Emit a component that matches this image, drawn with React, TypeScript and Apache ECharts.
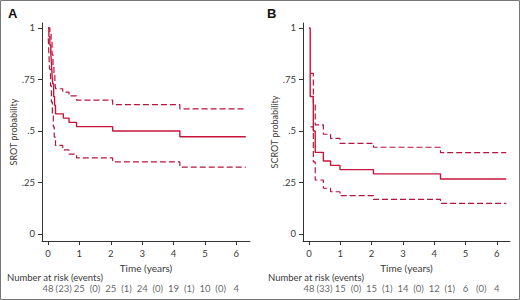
import React, { useEffect, useRef } from "react";
import * as echarts from "echarts";

// Panel A (SROT) Kaplan-Meier estimate with 95% CI
const survA: [number, number][] = [
  [0, 1], [0.03, 0.958], [0.06, 0.917], [0.09, 0.875], [0.11, 0.833], [0.13, 0.771],
  [0.15, 0.729], [0.18, 0.667], [0.21, 0.625], [0.24, 0.583], [0.49, 0.5625],
  [0.67, 0.5417], [0.91, 0.521], [2.06, 0.5], [4.2, 0.472], [6.3, 0.472],
];
const upperA: [number, number][] = [
  [0, 1], [0.06, 0.98], [0.1, 0.93], [0.13, 0.87], [0.16, 0.81], [0.19, 0.77],
  [0.22, 0.74], [0.24, 0.705], [0.47, 0.689], [0.67, 0.67], [0.91, 0.65],
  [2.06, 0.628], [4.2, 0.607], [6.3, 0.607],
];
const lowerA: [number, number][] = [
  [0.01, 0.95], [0.03, 0.87], [0.05, 0.8], [0.08, 0.72], [0.11, 0.64], [0.14, 0.58],
  [0.17, 0.52], [0.2, 0.47], [0.24, 0.43], [0.47, 0.408], [0.67, 0.388],
  [0.91, 0.369], [2.06, 0.35], [4.2, 0.325], [6.3, 0.325],
];

// Panel B (SCROT)
const survB: [number, number][] = [
  [0, 1], [0.04, 0.667], [0.14, 0.5], [0.2, 0.396], [0.46, 0.354], [0.69, 0.333],
  [0.99, 0.3125], [2.06, 0.292], [4.2, 0.267], [6.3, 0.267],
];
const upperB: [number, number][] = [
  [0.05, 0.78], [0.14, 0.63], [0.2, 0.53], [0.46, 0.484], [0.69, 0.464],
  [0.99, 0.44], [2.06, 0.421], [4.2, 0.395], [6.3, 0.395],
];
const lowerB: [number, number][] = [
  [0.05, 0.52], [0.14, 0.35], [0.2, 0.262], [0.46, 0.222], [0.69, 0.205],
  [0.99, 0.186], [2.06, 0.168], [4.2, 0.149], [6.3, 0.149],
];

// Number at risk (events)
const atRiskA = [48, 25, 25, 24, 19, 10, 4];
const eventsA = [23, 0, 1, 0, 1, 0];
const atRiskB = [48, 15, 15, 14, 12, 6, 4];
const eventsB = [33, 0, 1, 0, 1, 0];

const xTicks = [0, 1, 2, 3, 4, 5, 6];
const yTicks = [0, 0.25, 0.5, 0.75, 1];
const yTickLabels = ["0", ".25", ".5", ".75", "1"];

const RED = "#c8143c";
const DASH = "#b3163e";
const AXIS = "#333";
const TXT = "#3a3a3a";
const FONT = "Lato, 'Liberation Sans', sans-serif";
const FS = 9.5;

function riskRow(atRisk: number[], events: number[]) {
  const out: [number, number, string][] = [];
  atRisk.forEach((n, i) => {
    out.push([i, 0.5, String(n)]);
    if (i < events.length) out.push([i + 0.5, 0.5, "(" + events[i] + ")"]);
  });
  return out;
}

export default function App() {
  const ref = useRef<HTMLDivElement>(null);
  useEffect(() => {
    if (!ref.current) return;
    const chart = echarts.init(ref.current, null, { renderer: "svg" });
    const xMin = -0.19;
    const yMin = -0.034;
    const yMax = 1.024;
    const panels = [
      { left: 42, width: 208, xMax: 6.434, name: "SROT probability" },
      { left: 303, width: 207, xMax: 6.42, name: "SCROT probability" },
    ];
    const grids: any[] = [];
    const xAxes: any[] = [];
    const yAxes: any[] = [];
    panels.forEach((p, i) => {
      grids.push({ left: p.left, width: p.width, top: 23, height: 218 });
      xAxes.push({
        type: "value", gridIndex: i, min: xMin, max: p.xMax,
        axisLine: { show: true, onZero: false, lineStyle: { color: AXIS, width: 1 } },
        axisTick: { show: true, length: 4, customValues: xTicks, lineStyle: { color: AXIS } },
        axisLabel: { customValues: xTicks, margin: 7, color: TXT, fontSize: FS, fontFamily: FONT },
        splitLine: { show: false },
        name: "Time (years)", nameLocation: "middle", nameGap: 16,
        nameTextStyle: { color: TXT, fontSize: 10, fontFamily: FONT },
      });
      yAxes.push({
        type: "value", gridIndex: i, min: yMin, max: yMax,
        axisLine: { show: true, onZero: false, lineStyle: { color: AXIS, width: 1 } },
        axisTick: { show: true, length: 4, customValues: yTicks, lineStyle: { color: AXIS } },
        axisLabel: {
          customValues: yTicks, margin: 7, color: TXT, fontSize: FS, fontFamily: FONT,
          formatter: (v: number) => {
            const k = yTicks.findIndex((t) => Math.abs(t - v) < 1e-6);
            return k >= 0 ? yTickLabels[k] : "";
          },
        },
        splitLine: { show: false },
        name: p.name, nameLocation: "middle", nameGap: 13,
        nameTextStyle: { color: TXT, fontSize: 9, fontFamily: FONT },
      });
    });
    // risk table grids
    panels.forEach((p, i) => {
      grids.push({ left: p.left, width: p.width, top: 283, height: 10 });
      xAxes.push({ type: "value", gridIndex: 2 + i, min: xMin, max: p.xMax, show: false });
      yAxes.push({ type: "value", gridIndex: 2 + i, min: 0, max: 1, show: false });
    });

    const line = (data: any, idx: number, dashed: boolean) => ({
      type: "line", xAxisIndex: idx, yAxisIndex: idx, data, step: "end",
      symbol: "none", silent: true,
      lineStyle: dashed
        ? { color: DASH, width: 1.2, type: [6, 3] }
        : { color: RED, width: 1.4 },
    });
    const risk = (data: any, idx: number) => ({
      type: "scatter", xAxisIndex: idx, yAxisIndex: idx, data, symbolSize: 1,
      itemStyle: { color: "rgba(0,0,0,0)" }, silent: true,
      label: {
        show: true, position: "inside", formatter: (pr: any) => pr.data[2],
        color: TXT, fontSize: FS, fontFamily: FONT,
      },
    });

    chart.setOption({
      animation: false,
      backgroundColor: "#fff",
      grid: grids,
      xAxis: xAxes,
      yAxis: yAxes,
      series: [
        line(upperA, 0, true), line(lowerA, 0, true), line(survA, 0, false),
        line(upperB, 1, true), line(lowerB, 1, true), line(survB, 1, false),
        risk(riskRow(atRiskA, eventsA), 2),
        risk(riskRow(atRiskB, eventsB), 3),
      ],
      graphic: [
        { type: "rect", shape: { x: 0.5, y: 0.5, width: 519, height: 299 }, style: { fill: "none", stroke: "#777", lineWidth: 1 } },
        { type: "text", left: 8, top: 7, style: { text: "A", fontSize: 13, fontWeight: "bold", fill: "#111", fontFamily: "'Liberation Sans', sans-serif" } },
        { type: "text", left: 267, top: 7, style: { text: "B", fontSize: 13, fontWeight: "bold", fill: "#111", fontFamily: "'Liberation Sans', sans-serif" } },
        { type: "text", left: 7, top: 272, style: { text: "Number at risk (events)", fontSize: FS, fill: TXT, fontFamily: FONT } },
        { type: "text", left: 268, top: 272, style: { text: "Number at risk (events)", fontSize: FS, fill: TXT, fontFamily: FONT } },
      ],
    });
    return () => chart.dispose();
  }, []);
  return (
    <div
      ref={ref}
      style={{ position: "fixed", left: 0, top: 0, width: 520, height: 300 }}
    />
  );
}
